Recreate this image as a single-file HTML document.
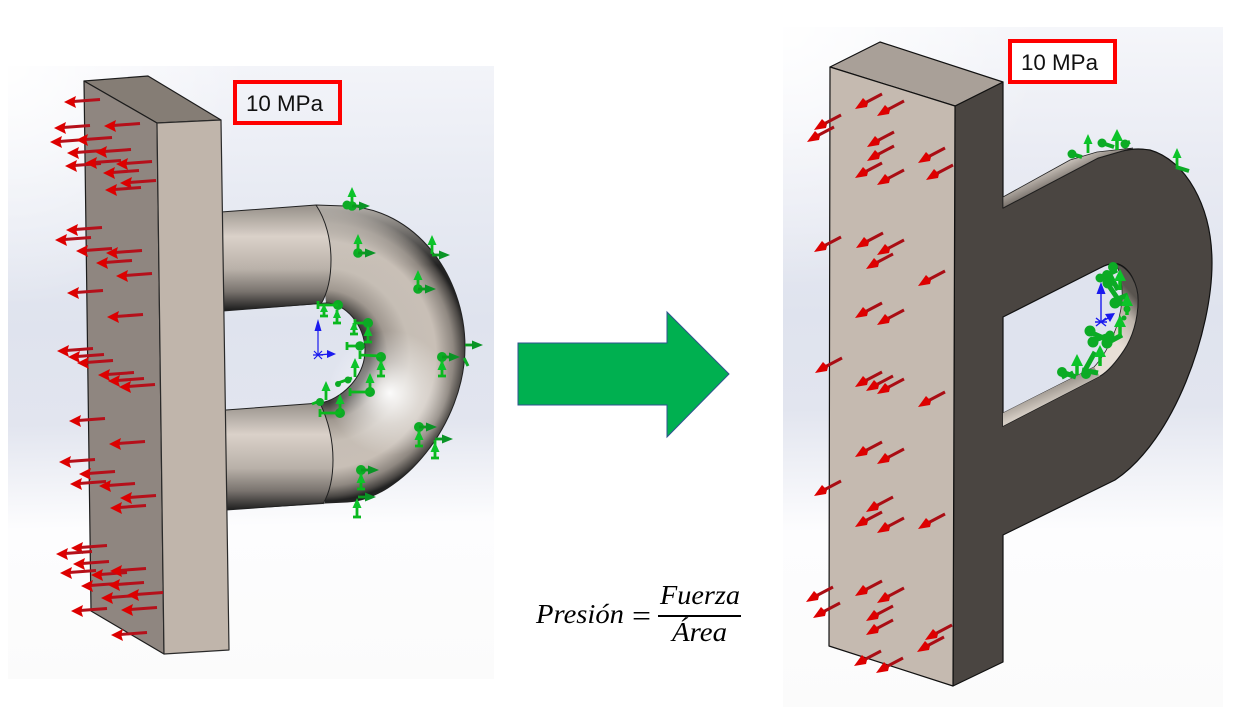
<!DOCTYPE html>
<html lang="es">
<head>
<meta charset="utf-8">
<title>Presión</title>
<style>
html,body{margin:0;padding:0;background:#fff;width:1248px;height:707px;overflow:hidden}
svg{display:block}
.lab{font-family:"Liberation Sans",sans-serif;font-size:22px;fill:#111}
.eq{font-family:"Liberation Serif",serif;font-style:italic;font-size:27px;fill:#000}
</style>
</head>
<body>
<svg width="1248" height="707" viewBox="0 0 1248 707" xmlns="http://www.w3.org/2000/svg">
<defs>
<linearGradient id="bgL" gradientUnits="userSpaceOnUse" x1="250" y1="66" x2="260" y2="679">
<stop offset="0" stop-color="#f3f4f9"/><stop offset=".2" stop-color="#e8ebf3"/><stop offset=".42" stop-color="#dfe3ee"/><stop offset=".58" stop-color="#e2e5ef"/><stop offset=".75" stop-color="#fdfdfe"/><stop offset="1" stop-color="#fbfbfb"/>
</linearGradient>
<linearGradient id="bgR" gradientUnits="userSpaceOnUse" x1="1000" y1="27" x2="1005" y2="707">
<stop offset="0" stop-color="#f5f6fa"/><stop offset=".2" stop-color="#e9ebf3"/><stop offset=".42" stop-color="#dfe3ee"/><stop offset=".56" stop-color="#e2e5ef"/><stop offset=".74" stop-color="#fdfdfe"/><stop offset="1" stop-color="#fbfbfb"/>
</linearGradient>
<radialGradient id="glow" gradientUnits="userSpaceOnUse" cx="8" cy="66" r="240"><stop offset="0" stop-color="#fff" stop-opacity=".95"/><stop offset="1" stop-color="#fff" stop-opacity="0"/></radialGradient>
<radialGradient id="glowR" gradientUnits="userSpaceOnUse" cx="783" cy="27" r="260"><stop offset="0" stop-color="#fff" stop-opacity=".95"/><stop offset="1" stop-color="#fff" stop-opacity="0"/></radialGradient>
<linearGradient id="t1" gradientUnits="userSpaceOnUse" x1="0" y1="208" x2="0" y2="310">
<stop offset="0" stop-color="#9c968f"/><stop offset=".28" stop-color="#dad1c9"/><stop offset=".6" stop-color="#b9b1a9"/><stop offset=".82" stop-color="#79736e"/><stop offset="1" stop-color="#1e1e1e"/>
</linearGradient>
<linearGradient id="t2" gradientUnits="userSpaceOnUse" x1="0" y1="405" x2="0" y2="510">
<stop offset="0" stop-color="#9c968f"/><stop offset=".28" stop-color="#dad1c9"/><stop offset=".6" stop-color="#b9b1a9"/><stop offset=".82" stop-color="#79736e"/><stop offset="1" stop-color="#1e1e1e"/>
</linearGradient>
<radialGradient id="bend" gradientUnits="userSpaceOnUse" cx="322" cy="355" r="146">
<stop offset="0" stop-color="#222"/><stop offset=".33" stop-color="#3f3d3a"/><stop offset=".45" stop-color="#a09890"/><stop offset=".6" stop-color="#c6beb5"/><stop offset=".78" stop-color="#c8bfb6"/><stop offset=".9" stop-color="#8f8881"/><stop offset=".97" stop-color="#4a4744"/><stop offset="1" stop-color="#222"/>
</radialGradient>
<linearGradient id="topL" gradientUnits="userSpaceOnUse" x1="0" y1="205" x2="0" y2="265">
<stop offset="0" stop-color="#cfc9c2" stop-opacity=".85"/><stop offset="1" stop-color="#cfc9c2" stop-opacity="0"/>
</linearGradient>
<radialGradient id="hi" gradientUnits="userSpaceOnUse" cx="390" cy="393" r="62"><stop offset="0" stop-color="#fff" stop-opacity=".95"/><stop offset=".5" stop-color="#fff" stop-opacity=".4"/><stop offset="1" stop-color="#fff" stop-opacity="0"/></radialGradient>
<linearGradient id="inner" gradientUnits="userSpaceOnUse" x1="1105" y1="330" x2="1138" y2="300">
<stop offset="0" stop-color="#e8dfd6"/><stop offset=".6" stop-color="#bdb4ab"/><stop offset="1" stop-color="#59544f"/>
</linearGradient>
<linearGradient id="strip" gradientUnits="userSpaceOnUse" x1="1040" y1="170" x2="1048" y2="188">
<stop offset="0" stop-color="#d8d0c8"/><stop offset="1" stop-color="#78716b"/>
</linearGradient>
<linearGradient id="strip2" gradientUnits="userSpaceOnUse" x1="1040" y1="385" x2="1048" y2="405">
<stop offset="0" stop-color="#8a837c"/><stop offset="1" stop-color="#d4ccc3"/>
</linearGradient>

<g id="rl"><path d="M9,-.5 L36,-2.5" stroke="#b5101a" stroke-width="3" fill="none"/><path d="M0,0 L12,-6 L10.5,-1 L10.5,1 L12,6 Z" fill="#dd0000"/></g>
<g id="rd"><path d="M8,-5 L27,-15" stroke="#a90d14" stroke-width="3" fill="none"/><path d="M0,0 L8,-11 L13,-6 L12,-2 Z" fill="#dd0000"/></g>

<g id="ga"><path d="M0,0 L11,0" stroke="#0a9c1e" stroke-width="2.8" fill="none"/><path d="M7,-4.5 L18,0 L7,4.5 Z" fill="#0a9426"/></g>
<g id="gu"><path d="M0,0 L0,-10" stroke="#0ab81e" stroke-width="2.8" fill="none"/><path d="M-4.5,-9 L0,-19 L4.5,-9 Z" fill="#0cc42a"/></g>
<g id="gub"><path d="M0,0 L0,-12" stroke="#0ab81e" stroke-width="3.5" fill="none"/><path d="M-6,-9 L0,-21 L6,-9 Z" fill="#0cc42a"/></g>
<g id="gA"><circle r="4.8" fill="#0cab25"/><use href="#gu"/><use href="#ga"/></g>
<g id="gB"><circle r="5" fill="#0cab25"/><path d="M0,4 L0,19 M-4,19 L4,19" stroke="#0ab81e" stroke-width="2.8" fill="none"/><path d="M-4.5,13 L0,3 L4.5,13 Z" fill="#0cc42a"/><use href="#ga"/></g>
<g id="gB2"><circle r="5" fill="#0cab25"/><path d="M0,4 L0,19 M-4,19 L4,19" stroke="#0ab81e" stroke-width="2.8" fill="none"/><path d="M-4.5,13 L0,3 L4.5,13 Z" fill="#0cc42a"/></g>
<g id="gC"><circle r="5" fill="#0cab25"/><path d="M0,0 L-20,0 M-20,-4 L-20,4" stroke="#0ab81e" stroke-width="2.8" fill="none"/><use href="#gu"/></g>
<g id="gD"><circle r="5" fill="#0cab25"/><path d="M0,0 L-20,0 M-20,-4 L-20,4" stroke="#0ab81e" stroke-width="2.8" fill="none"/><path d="M-14,0 L-14,11 M-18,11 L-10,11" stroke="#0ab81e" stroke-width="2.8" fill="none"/><path d="M-18,7 L-14,-1 L-10,7 Z" fill="#0cc42a"/></g>
<g id="gL"><path d="M0,0 L-13,0 M-13,-4 L-13,4" stroke="#0ab81e" stroke-width="2.8" fill="none"/><circle r="4.8" fill="#0cab25"/></g>
</defs>

<!-- backgrounds -->
<rect x="8" y="66" width="486" height="613" fill="url(#bgL)"/>
<rect x="8" y="66" width="486" height="300" fill="url(#glow)"/>
<rect x="783" y="27" width="440" height="680" fill="url(#bgR)"/>
<rect x="783" y="27" width="440" height="300" fill="url(#glowR)"/>

<!-- left tube -->
<path id="bp" d="M316,205 L345,206 C415,208 465,275 465,347 C465,425 400,500 347,502 L325,503 L320,403 C340,400 365,378 365,350 C365,325 345,303 326,303 Z" fill="url(#bend)"/>
<path d="M316,205 L345,206 C415,208 465,275 465,347 C465,425 400,500 347,502 L325,503 L320,403 C340,400 365,378 365,350 C365,325 345,303 326,303 Z" fill="url(#topL)"/>
<path d="M221,212 L316,205 C326,220 331,240 331,260 C331,278 328,292 321,304 L223,311 Z" fill="url(#t1)"/>
<path d="M226,410 L320,403 C328,420 333,440 333,460 C333,478 330,492 323,504 L226,510 Z" fill="url(#t2)"/>
<circle cx="390" cy="393" r="62" fill="url(#hi)"/>
<path d="M221,212 L316,205 L345,206 C415,208 465,275 465,347 C465,425 400,500 347,502 L325,503 L226,510" fill="none" stroke="#222" stroke-width="1"/>
<path d="M223,311 L326,303 C345,303 365,325 365,350 C365,378 340,400 320,403 L226,410" fill="none" stroke="#222" stroke-width="1"/>
<path d="M316,205 C326,220 331,240 331,260 C331,278 328,292 321,304" fill="none" stroke="#222" stroke-width="1"/>
<path d="M320,403 C328,420 333,440 333,460 C333,478 330,492 323,504" fill="none" stroke="#222" stroke-width="1"/>

<!-- left box -->
<path d="M84,81 L148,76 L221,120 L157,123 Z" fill="#857d75" stroke="#1c1c1c" stroke-width="1.2" stroke-linejoin="round"/>
<path d="M84,81 L157,123 L164,654 L91,611 Z" fill="#8f8680" stroke="#1c1c1c" stroke-width="1.2" stroke-linejoin="round"/>
<path d="M157,123 L221,120 L229,650 L164,654 Z" fill="#c0b5ab" stroke="#2a2a2a" stroke-width="1.2" stroke-linejoin="round"/>

<!-- left red arrows -->
<g>
<use href="#rl" x="64" y="102"/><use href="#rl" x="54" y="128"/><use href="#rl" x="104" y="126"/><use href="#rl" x="50" y="142"/><use href="#rl" x="76" y="140"/><use href="#rl" x="67" y="153"/><use href="#rl" x="95" y="152"/><use href="#rl" x="65" y="166"/><use href="#rl" x="85" y="163"/><use href="#rl" x="116" y="164"/><use href="#rl" x="103" y="173"/><use href="#rl" x="120" y="183"/><use href="#rl" x="105" y="190"/><use href="#rl" x="66" y="230"/><use href="#rl" x="55" y="240"/><use href="#rl" x="76" y="251"/><use href="#rl" x="106" y="253"/><use href="#rl" x="96" y="263"/><use href="#rl" x="116" y="276"/><use href="#rl" x="67" y="293"/><use href="#rl" x="107" y="317"/><use href="#rl" x="57" y="351"/><use href="#rl" x="68" y="357"/><use href="#rl" x="77" y="363"/><use href="#rl" x="98" y="375"/><use href="#rl" x="108" y="381"/><use href="#rl" x="119" y="387"/><use href="#rl" x="69" y="421"/><use href="#rl" x="109" y="444"/><use href="#rl" x="59" y="462"/><use href="#rl" x="79" y="474"/><use href="#rl" x="70" y="484"/><use href="#rl" x="99" y="486"/><use href="#rl" x="120" y="498"/><use href="#rl" x="110" y="508"/><use href="#rl" x="71" y="548"/><use href="#rl" x="56" y="554"/><use href="#rl" x="73" y="564"/><use href="#rl" x="60" y="573"/><use href="#rl" x="91" y="575"/><use href="#rl" x="110" y="571"/><use href="#rl" x="81" y="586"/><use href="#rl" x="108" y="585"/><use href="#rl" x="101" y="598"/><use href="#rl" x="127" y="595"/><use href="#rl" x="71" y="611"/><use href="#rl" x="121" y="610"/><use href="#rl" x="111" y="635"/>
</g>

<!-- left green markers -->
<g>
<use href="#gA" x="352" y="206"/><circle cx="347" cy="205" r="4.5" fill="#0cab25"/>
<use href="#gA" x="358" y="253"/>
<use href="#gu" x="432" y="254"/><use href="#ga" x="432" y="255"/>
<use href="#gA" x="418" y="289"/>
<use href="#gB" x="442" y="357"/>
<use href="#gB" x="419" y="427"/>
<use href="#ga" x="435" y="439"/><path d="M435,440 L435,458 M431,458 L439,458" stroke="#0ab81e" stroke-width="2.8" fill="none"/><path d="M430.5,452 L435,442 L439.500,452 Z" fill="#0cc42a"/>
<use href="#gB" x="361" y="470"/>
<use href="#gu" x="357" y="517"/><path d="M353,517 L361,517" stroke="#0ab81e" stroke-width="2.8"/><use href="#ga" x="358" y="497"/>
<use href="#ga" x="465" y="345"/><path d="M464,358 L468,366" stroke="#0cab25" stroke-width="3"/>
<use href="#gD" x="338" y="305"/>
<use href="#gL" x="368" y="323"/><path d="M354,323 L354,334 M350,334 L358,334" stroke="#0ab81e" stroke-width="2.8" fill="none"/><path d="M350,330 L354,322 L358,330 Z" fill="#0cc42a"/>
<use href="#gB2" x="368" y="323"/>
<path d="M337,310 L337,323 M333,323 L341,323" stroke="#0ab81e" stroke-width="2.8" fill="none"/><path d="M333,318 L337,309 L341,318 Z" fill="#0cc42a"/>
<use href="#gL" x="360" y="346"/>
<use href="#gB2" x="381" y="357"/><path d="M381,356 L360,355 M360,351 L360,359" stroke="#0ab81e" stroke-width="2.8" fill="none"/>
<use href="#gC" x="370" y="392"/>
<use href="#gC" x="340" y="413"/>
<use href="#gu" x="355" y="377"/><path d="M338,383 L352,378" stroke="#0ab81e" stroke-width="2.8"/><circle cx="348" cy="380" r="3.5" fill="#0cab25"/><circle cx="338" cy="384" r="3" fill="#0cab25"/>
<use href="#gu" x="326" y="400"/><path d="M312,404 L322,400" stroke="#0ab81e" stroke-width="2.8"/><circle cx="320" cy="402" r="4" fill="#0cab25"/>
</g>

<!-- left triad -->
<g stroke="#1a1aee" fill="none" stroke-width="1.2">
<path d="M318,355 L318,322 M318,355 L330,354"/>
<path d="M314,351 L322,359 M322,351 L314,359 M313,355 L323,355"/>
</g>
<path d="M314.500,331 L318,319 L321.500,331 Z M327,350 L336,354 L327,358 Z" fill="#1a1aee"/>

<!-- arrow -->
<path d="M518,343 L667,343 L667,312 L729,374 L667,437 L667,405 L518,405 Z" fill="#00b050" stroke="#2f528f" stroke-width="1"/>

<!-- formula -->
<text class="eq" x="536" y="623" textLength="88" lengthAdjust="spacingAndGlyphs">Presión</text>
<text x="632" y="626" font-family="Liberation Serif, serif" font-size="31" textLength="19" lengthAdjust="spacingAndGlyphs">=</text>
<text class="eq" x="660" y="604" textLength="80" lengthAdjust="spacingAndGlyphs">Fuerza</text>
<rect x="658" y="615" width="83" height="2" fill="#000"/>
<text class="eq" x="672" y="641" textLength="55" lengthAdjust="spacingAndGlyphs">Área</text>

<!-- right solid -->
<path d="M1003,82 L1003,208 L1098,158 L1122,151 C1135,148 1143,149 1150,150 C1185,160 1212,205 1212,263 C1212,330 1175,440 1115,480 L1003,535 L1003,662 L953,686 L955,106 Z" fill="#4a4541" stroke="#111" stroke-width="1.2" stroke-linejoin="round"/>
<path d="M1003,197 L1070,160 L1097,152 L1133,148 L1122,151 L1098,158 L1003,208 Z" fill="url(#strip)" stroke="#222" stroke-width=".8"/>
<path d="M1003,317 L1100,268 C1107,264 1113,263 1118,264 C1130,268 1138,285 1138,300 C1138,320 1132,338 1124,350 C1116,362 1107,372 1100,376 L1003,426 Z" fill="#dfe3ee" stroke="#111" stroke-width="1.2"/>
<path d="M1116,264 C1130,268 1138,285 1138,300 C1138,320 1132,338 1124,350 C1116,362 1107,372 1100,376 L1003,426 L1003,413 L1094,367 C1108,352 1120,325 1122,300 C1123,285 1120,272 1116,264 Z" fill="url(#inner)" stroke="#222" stroke-width=".8"/>
<path d="M1003,413 L1094,367 L1100,376 L1003,426 Z" fill="url(#strip2)"/>

<!-- right box front/top -->
<path d="M830,67 L880,42 L1003,82 L955,106 Z" fill="#a9a098" stroke="#111" stroke-width="1.2" stroke-linejoin="round"/>
<path d="M830,67 L955,106 L953,686 L829,646 Z" fill="#c5bab0" stroke="#111" stroke-width="1.2" stroke-linejoin="round"/>

<!-- right red arrows -->
<g>
<use href="#rd" x="855" y="109"/><use href="#rd" x="877" y="116"/><use href="#rd" x="814" y="130"/><use href="#rd" x="807" y="142"/><use href="#rd" x="867" y="147"/><use href="#rd" x="867" y="161"/><use href="#rd" x="855" y="178"/><use href="#rd" x="877" y="185"/><use href="#rd" x="918" y="163"/><use href="#rd" x="926" y="180"/><use href="#rd" x="814" y="252"/><use href="#rd" x="856" y="248"/><use href="#rd" x="877" y="255"/><use href="#rd" x="866" y="269"/><use href="#rd" x="918" y="286"/><use href="#rd" x="855" y="318"/><use href="#rd" x="877" y="325"/><use href="#rd" x="815" y="373"/><use href="#rd" x="855" y="387"/><use href="#rd" x="866" y="391"/><use href="#rd" x="877" y="394"/><use href="#rd" x="918" y="407"/><use href="#rd" x="855" y="457"/><use href="#rd" x="877" y="464"/><use href="#rd" x="814" y="496"/><use href="#rd" x="866" y="512"/><use href="#rd" x="855" y="527"/><use href="#rd" x="877" y="533"/><use href="#rd" x="918" y="529"/><use href="#rd" x="806" y="602"/><use href="#rd" x="813" y="618"/><use href="#rd" x="855" y="596"/><use href="#rd" x="877" y="603"/><use href="#rd" x="866" y="621"/><use href="#rd" x="866" y="635"/><use href="#rd" x="925" y="640"/><use href="#rd" x="917" y="652"/><use href="#rd" x="854" y="666"/><use href="#rd" x="876" y="673"/>
</g>

<!-- right green markers -->
<g>
<use href="#gub" x="1117" y="150"/><use href="#gu" x="1088" y="153"/><use href="#gu" x="1177" y="167"/>
<g stroke="#0cab25" stroke-width="4" fill="none"><path d="M1072,154 L1082,157 M1102,143 L1114,147 M1124,144 L1130,142 M1176,167 L1189,171"/></g>
<g fill="#0cab25">
<circle cx="1072" cy="154" r="4.5"/><circle cx="1102" cy="143" r="4.5"/><circle cx="1125" cy="144" r="4.5"/>
<circle cx="1100" cy="278" r="4.5"/><circle cx="1107" cy="275" r="5"/><circle cx="1113" cy="267" r="5"/><circle cx="1108" cy="283" r="5.5"/><circle cx="1115" cy="303" r="5.5"/><circle cx="1127" cy="309" r="3.500"/><circle cx="1090" cy="331" r="5.5"/><circle cx="1093" cy="342" r="5.5"/><circle cx="1107" cy="343" r="5.5"/><circle cx="1110" cy="335" r="4.5"/><circle cx="1086" cy="374" r="5"/><circle cx="1062" cy="372" r="5"/><circle cx="1124" cy="318" r="2.500"/>
</g>
<g stroke="#0cab25" stroke-width="5" fill="none">
<path d="M1100,278 L1117,270 M1107,283 L1122,305 M1115,300 L1128,295 M1090,332 L1108,340 M1092,341 L1112,334 M1107,343 L1122,335 M1062,372 L1076,377 M1082,370 L1098,373 M1095,352 L1085,370 M1110,275 L1118,290"/>
</g>
<use href="#gub" x="1120" y="290"/><use href="#gub" x="1120" y="336"/><use href="#gub" x="1100" y="366"/><use href="#gub" x="1077" y="375"/><use href="#gub" x="1127" y="315"/>
<path d="M1062,378 L1073,372" stroke="#0cab25" stroke-width="3"/>
</g>

<!-- right triad -->
<path d="M1101,322 L1101,288 M1101,322 L1112,316 M1096,318 L1106,326 M1106,318 L1096,326 M1095,322 L1107,322" stroke="#1a1aee" stroke-width="1.4" fill="none"/>
<path d="M1096.500,294 L1101,282 L1105.500,294 Z M1105,314 L1110,322 L1115,313 Z" fill="#1a1aee"/>

<!-- labels -->
<rect x="235" y="82" width="105" height="41" fill="none" stroke="#ff0000" stroke-width="4"/>
<text class="lab" x="246" y="111" textLength="77" lengthAdjust="spacingAndGlyphs">10 MPa</text>
<rect x="1010" y="41" width="105" height="41" fill="#fff" stroke="#ff0000" stroke-width="4"/>
<text class="lab" x="1021" y="70" textLength="77" lengthAdjust="spacingAndGlyphs">10 MPa</text>
</svg>
</body>
</html>
